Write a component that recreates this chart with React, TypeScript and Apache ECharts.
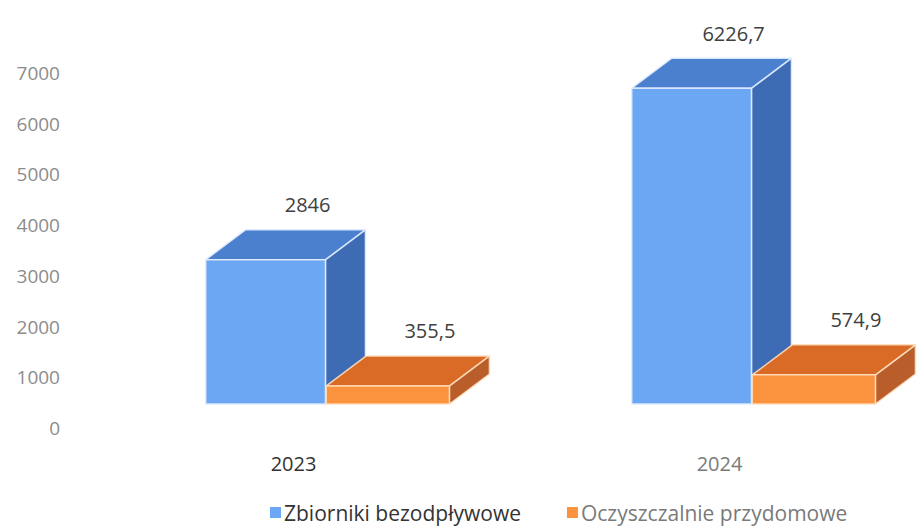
import React, { useEffect, useRef } from "react";
import * as echarts from "echarts";

const categories = ["2023", "2024"];
const seriesNames = ["Zbiorniki bezodpływowe", "Oczyszczalnie przydomowe"];
const zbiorniki = [2846, 6226.7];
const oczyszczalnie = [355.5, 574.9];
const yTicks = { min: 0, max: 7000, interval: 1000 };

const FONT = "'Open Sans'";

const palettes = [
  { front: "#6ba7f2", top: "#4b80cf", side: "#3e6cb4", edge: "rgba(225,236,255,0.9)" },
  { front: "#fb923d", top: "#d96b27", side: "#b95e2b", edge: "rgba(255,222,190,0.9)" },
];
// horizontal extent of each series' front face, as fractions of the category band
const spans = [
  [-0.206, 0.075],
  [0.077, 0.366],
];

function makeRender(si: number) {
  return (params: any, api: any) => {
    const ci = api.value(0);
    const v = api.value(1);
    const bw = api.size([1, 0])[0];
    const cx = api.coord([ci, 0])[0];
    const floorShift = 24;
    const yB = api.coord([ci, 0])[1] - floorShift;
    const yT = api.coord([ci, v])[1] - floorShift;
    const x0 = cx + spans[si][0] * bw;
    const x1 = cx + spans[si][1] * bw;
    const dx = 40;
    const dy = -30;
    const p = palettes[si];
    const stroke = { stroke: p.edge, lineWidth: 1.5, lineJoin: "round" };
    const label = String(v).replace(".", ",");
    return {
      type: "group",
      children: [
        {
          type: "polygon",
          shape: { points: [[x1, yB], [x1 + dx, yB + dy], [x1 + dx, yT + dy], [x1, yT]] },
          style: { fill: p.side, ...stroke },
        },
        {
          type: "polygon",
          shape: { points: [[x0, yT], [x0 + dx, yT + dy], [x1 + dx, yT + dy], [x1, yT]] },
          style: { fill: p.top, ...stroke },
        },
        {
          type: "rect",
          shape: { x: x0, y: yT, width: x1 - x0, height: yB - yT },
          style: { fill: p.front, ...stroke },
        },
        {
          type: "text",
          x: (x0 + x1) / 2 + 42,
          y: yT + dy - 25,
          style: {
            text: label,
            fill: "#404040",
            font: `20px ${FONT}`,
            textAlign: "center",
            textVerticalAlign: "middle",
          },
        },
      ],
    };
  };
}

export default function App() {
  const ref = useRef<HTMLDivElement>(null);
  useEffect(() => {
    if (!ref.current) return;
    const chart = echarts.init(ref.current, undefined, { renderer: "svg" });
    const values = [zbiorniki, oczyszczalnie];
    chart.setOption({
      animation: false,
      backgroundColor: "#ffffff",
      grid: { left: 80.5, top: 73, right: -14.5, bottom: 100, containLabel: false, outerBoundsMode: "none" },
      legend: {
        data: seriesNames.map((n, i) => ({
          name: n,
          icon: "rect",
          itemStyle: { color: palettes[i].front },
          textStyle: { color: i === 0 ? "#333333" : "#7a7a7a" },
        })),
        left: 265,
        top: 497,
        itemWidth: 11,
        itemHeight: 11,
        itemGap: 46,
        textStyle: { fontFamily: FONT, fontSize: 21, lineHeight: 21, padding: [0, 0, 0, -2] },
      },
      xAxis: {
        type: "category",
        data: categories,
        axisLine: { show: false },
        axisTick: { show: false },
        axisLabel: {
          margin: 25,
          fontFamily: FONT,
          fontSize: 20,
          color: (val: string, idx: number) => (idx === 0 ? "#333333" : "#7a7a7a"),
        },
      },
      yAxis: {
        type: "value",
        min: yTicks.min,
        max: yTicks.max,
        interval: yTicks.interval,
        axisLine: { show: false },
        axisTick: { show: false },
        splitLine: { show: false },
        axisLabel: {
          margin: 20.5,
          fontFamily: FONT,
          fontSize: 19,
          color: "#8c8c8c",
          formatter: (v: number) => String(v),
        },
      },
      series: values.map((vals, si) => ({
        type: "custom",
        name: seriesNames[si],
        clip: false,
        itemStyle: { color: palettes[si].front },
        renderItem: makeRender(si),
        data: vals.map((v, ci) => [ci, v]),
        encode: { x: 0, y: 1 },
      })),
    });
    return () => chart.dispose();
  }, []);
  return <div ref={ref} style={{ width: 918, height: 528, position: "absolute", left: 0, top: 0 }} />;
}
